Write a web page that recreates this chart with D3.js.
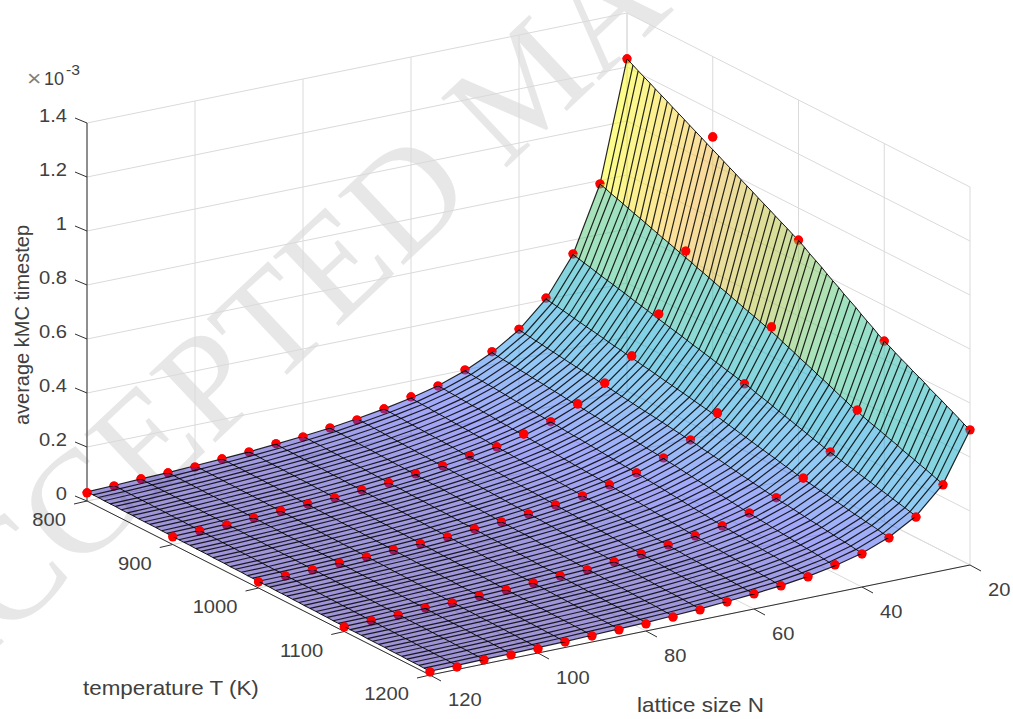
<!DOCTYPE html>
<html>
<head>
<meta charset="utf-8">
<script src="https://cdn.jsdelivr.net/npm/d3@7"></script>
<style>
body { margin: 0; background: #fff; }
text { font-family: "Liberation Sans", Arial, sans-serif; }
</style>
</head>
<body>
<svg></svg>
<script>

// axis ticks
var tempTicks = [800,900,1000,1100,1200];
var sizeTicks = [120,100,80,60,40,20];
var zTicks = [0,0.2,0.4,0.6,0.8,1,1.2,1.4];
var zTickLabels = ["0","0.2","0.4","0.6","0.8","1","1.2","1.4"];

// lattice sizes of the red points and of the surface columns
var latticeSizes = [20,25,30,35,40,45,50,55,60,65,70,75,80,85,90,95,100,105,110,115,120];

// red points, average timestep in units of 1e-3, one row per temperature
var points800 = [1.23,.787,.548,.405,.31,.247,.2,.161,.141,.117,.096,.087,.074,.069,.059,.054,.044,.043,.041,.035,.03];
var points900 = [1.102,.7,.487,.352,.272,.215,.169,.144,.117,.104,.087,.078,.065,.059,.05,.048,.043,.037,.031,.03,.028];
var points1000 = [.881,.58,.389,.302,.222,.176,.141,.117,.096,.083,.07,.061,.056,.046,.041,.039,.033,.031,.026,.024,.022];
var points1100 = [.668,.433,.298,.222,.169,.133,.106,.089,.076,.063,.054,.044,.043,.037,.031,.03,.024,.026,.02,.019,.017];
var points1200 = [.5,.317,.218,.161,.122,.102,.078,.065,.056,.046,.037,.031,.026,.024,.022,.02,.015,.013,.015,.009,.011];
var pointRows = [
  {temp:800, values:points800},
  {temp:900, values:points900},
  {temp:1000, values:points1000},
  {temp:1100, values:points1100},
  {temp:1200, values:points1200}
];

// surface mesh, one row per temperature from 800 to 1200
var surfaceTemps = [800,807,813,820,827,833,840,847,853,860,867,873,880,887,893,900,907,913,920,927,933,940,947,953,960,967,973,980,987,993,1000,1007,1013,1020,1027,1033,1040,1047,1053,1060,1067,1073,1080,1087,1093,1100,1107,1113,1120,1127,1133,1140,1147,1153,1160,1167,1173,1180,1187,1193,1200];
var surfaceValues = [
[1.230,.787,.546,.402,.308,.244,.197,.162,.137,.117,.101,.087,.077,.068,.060,.054,.049,.044,.041,.037,.034],
[1.218,.780,.541,.398,.305,.241,.195,.161,.135,.116,.100,.086,.076,.067,.060,.054,.049,.044,.040,.037,.034],
[1.207,.772,.536,.395,.302,.239,.193,.159,.134,.115,.099,.086,.075,.066,.059,.053,.048,.043,.040,.036,.034],
[1.195,.765,.531,.391,.299,.237,.191,.158,.133,.114,.098,.085,.075,.066,.058,.053,.048,.043,.039,.036,.033],
[1.183,.757,.525,.387,.296,.234,.189,.156,.131,.112,.097,.084,.074,.065,.058,.052,.047,.043,.039,.035,.033],
[1.172,.750,.520,.383,.293,.232,.188,.155,.130,.111,.096,.083,.073,.064,.057,.052,.047,.042,.039,.035,.033],
[1.160,.742,.515,.379,.290,.230,.186,.153,.129,.110,.095,.082,.073,.064,.057,.051,.046,.042,.038,.035,.032],
[1.148,.735,.510,.375,.287,.227,.184,.152,.127,.109,.094,.082,.072,.063,.056,.051,.046,.041,.038,.034,.032],
[1.137,.728,.505,.372,.284,.225,.182,.150,.126,.108,.093,.081,.071,.063,.056,.050,.045,.041,.038,.034,.032],
[1.125,.720,.500,.368,.281,.223,.180,.149,.125,.107,.092,.080,.070,.062,.055,.050,.045,.041,.037,.034,.031],
[1.113,.712,.494,.364,.278,.220,.178,.147,.124,.106,.091,.079,.070,.061,.055,.049,.045,.040,.037,.033,.031],
[1.102,.705,.489,.360,.276,.218,.176,.145,.122,.105,.090,.078,.069,.061,.054,.048,.044,.040,.036,.033,.031],
[1.090,.698,.484,.356,.273,.216,.174,.144,.121,.104,.089,.077,.068,.060,.053,.048,.044,.039,.036,.033,.031],
[1.078,.690,.479,.353,.270,.213,.172,.142,.120,.102,.088,.077,.067,.059,.053,.047,.043,.039,.036,.032,.030],
[1.067,.683,.474,.349,.267,.211,.171,.141,.118,.101,.087,.076,.067,.059,.052,.047,.043,.038,.035,.032,.030],
[1.055,.675,.468,.345,.264,.209,.169,.139,.117,.100,.087,.075,.066,.058,.052,.046,.042,.038,.035,.032,.030],
[1.043,.668,.463,.341,.261,.207,.167,.138,.116,.099,.086,.074,.065,.057,.051,.046,.042,.038,.034,.031,.029],
[1.032,.660,.458,.337,.258,.204,.165,.136,.115,.098,.085,.073,.065,.057,.051,.045,.041,.037,.034,.031,.029],
[1.020,.653,.453,.334,.255,.202,.163,.135,.113,.097,.084,.072,.064,.056,.050,.045,.041,.037,.034,.031,.029],
[1.008,.645,.448,.330,.252,.200,.161,.133,.112,.096,.083,.072,.063,.055,.049,.044,.040,.036,.033,.030,.028],
[.997,.638,.443,.326,.249,.197,.160,.132,.111,.095,.082,.071,.062,.055,.049,.044,.040,.036,.033,.030,.028],
[.985,.630,.437,.322,.246,.195,.158,.130,.109,.094,.081,.070,.062,.054,.048,.043,.039,.035,.033,.030,.028],
[.973,.623,.432,.318,.243,.193,.156,.128,.108,.092,.080,.069,.061,.054,.048,.043,.039,.035,.032,.029,.027],
[.962,.616,.427,.315,.241,.190,.154,.127,.107,.091,.079,.068,.060,.053,.047,.042,.038,.035,.032,.029,.027],
[.950,.608,.422,.311,.238,.188,.152,.125,.105,.090,.078,.067,.059,.052,.047,.042,.038,.034,.031,.029,.027],
[.938,.600,.416,.307,.235,.186,.150,.124,.104,.089,.077,.067,.059,.052,.046,.041,.038,.034,.031,.028,.026],
[.927,.593,.412,.303,.232,.184,.148,.122,.103,.088,.076,.066,.058,.051,.045,.041,.037,.033,.031,.028,.026],
[.915,.586,.406,.299,.229,.181,.146,.121,.102,.087,.075,.065,.057,.050,.045,.040,.037,.033,.030,.027,.026],
[.903,.578,.401,.295,.226,.179,.144,.119,.100,.086,.074,.064,.056,.050,.044,.040,.036,.033,.030,.027,.025],
[.892,.571,.396,.292,.223,.177,.143,.118,.099,.085,.073,.063,.056,.049,.044,.039,.036,.032,.029,.027,.025],
[.880,.563,.391,.288,.220,.174,.141,.116,.098,.084,.072,.062,.055,.048,.043,.039,.035,.032,.029,.026,.025],
[.866,.554,.385,.283,.217,.171,.139,.114,.096,.082,.071,.061,.054,.048,.042,.038,.035,.031,.029,.026,.024],
[.852,.545,.378,.279,.213,.169,.136,.112,.095,.081,.070,.060,.053,.047,.042,.037,.034,.031,.028,.026,.024],
[.838,.536,.372,.274,.210,.166,.134,.111,.093,.080,.069,.059,.052,.046,.041,.037,.034,.030,.028,.025,.023],
[.824,.527,.366,.269,.206,.163,.132,.109,.091,.078,.068,.059,.052,.045,.040,.036,.033,.030,.027,.025,.023],
[.810,.518,.360,.265,.203,.160,.130,.107,.090,.077,.066,.058,.051,.045,.040,.036,.032,.029,.027,.024,.023],
[.795,.509,.353,.260,.199,.157,.127,.105,.088,.076,.065,.056,.050,.044,.039,.035,.032,.029,.026,.024,.022],
[.781,.500,.347,.255,.195,.155,.125,.103,.087,.074,.064,.055,.049,.043,.038,.034,.031,.028,.026,.023,.022],
[.767,.491,.341,.251,.192,.152,.123,.101,.085,.073,.063,.054,.048,.042,.038,.034,.031,.028,.025,.023,.021],
[.753,.482,.334,.246,.188,.149,.120,.099,.084,.072,.062,.053,.047,.041,.037,.033,.030,.027,.025,.023,.021],
[.739,.473,.328,.242,.185,.146,.118,.098,.082,.070,.061,.052,.046,.041,.036,.033,.030,.027,.024,.022,.021],
[.725,.464,.322,.237,.181,.144,.116,.096,.080,.069,.059,.051,.045,.040,.036,.032,.029,.026,.024,.022,.020],
[.710,.454,.315,.232,.178,.141,.114,.094,.079,.067,.058,.050,.044,.039,.035,.031,.028,.026,.023,.021,.020],
[.696,.445,.309,.228,.174,.138,.111,.092,.077,.066,.057,.049,.044,.038,.034,.031,.028,.025,.023,.021,.019],
[.682,.436,.303,.223,.171,.135,.109,.090,.076,.065,.056,.048,.043,.038,.033,.030,.027,.025,.023,.020,.019],
[.668,.428,.297,.218,.167,.132,.107,.088,.074,.063,.055,.047,.042,.037,.033,.029,.027,.024,.022,.020,.019],
[.657,.420,.292,.215,.164,.130,.105,.087,.073,.062,.054,.047,.041,.036,.032,.029,.026,.024,.022,.020,.018],
[.646,.413,.287,.211,.162,.128,.103,.085,.072,.061,.053,.046,.040,.036,.032,.028,.026,.023,.021,.019,.018],
[.634,.406,.281,.207,.159,.126,.101,.084,.070,.060,.052,.045,.040,.035,.031,.028,.025,.023,.021,.019,.018],
[.623,.399,.277,.204,.156,.123,.100,.082,.069,.059,.051,.044,.039,.034,.031,.027,.025,.022,.021,.019,.017],
[.612,.392,.272,.200,.153,.121,.098,.081,.068,.058,.050,.043,.038,.034,.030,.027,.024,.022,.020,.018,.017],
[.601,.385,.267,.197,.150,.119,.096,.079,.067,.057,.049,.043,.038,.033,.029,.026,.024,.022,.020,.018,.017],
[.590,.378,.262,.193,.148,.117,.094,.078,.065,.056,.048,.042,.037,.032,.029,.026,.024,.021,.019,.018,.017],
[.578,.370,.257,.189,.145,.114,.092,.076,.064,.055,.047,.041,.036,.032,.028,.025,.023,.021,.019,.017,.016],
[.567,.363,.252,.185,.142,.112,.091,.075,.063,.054,.046,.040,.035,.031,.028,.025,.023,.020,.019,.017,.016],
[.556,.356,.247,.182,.139,.110,.089,.073,.062,.053,.046,.039,.035,.031,.027,.024,.022,.020,.018,.017,.016],
[.545,.349,.242,.178,.136,.108,.087,.072,.060,.052,.045,.039,.034,.030,.027,.024,.022,.020,.018,.016,.015],
[.534,.342,.237,.175,.134,.106,.085,.070,.059,.051,.044,.038,.033,.029,.026,.023,.021,.019,.018,.016,.015],
[.522,.334,.232,.171,.131,.103,.084,.069,.058,.050,.043,.037,.033,.029,.026,.023,.021,.019,.017,.016,.015],
[.511,.327,.227,.167,.128,.101,.082,.067,.057,.049,.042,.036,.032,.028,.025,.022,.020,.018,.017,.015,.014],
[.500,.320,.222,.164,.125,.099,.080,.066,.056,.048,.041,.036,.031,.028,.025,.022,.020,.018,.017,.015,.014]
];

var width = 1013;
var height = 719;

var svg = d3.select("svg")
            .attr("width",width)
            .attr("height",height);

// the box is an oblique projection, each data axis moves x and y on screen
var originX = 87;
var originY = 501;
var tempX = d3.scaleLinear().domain([800,1200]).range([0,343]);
var tempY = d3.scaleLinear().domain([800,1200]).range([0,174]);
var sizeX = d3.scaleLinear().domain([120,20]).range([0,540]);
var sizeY = d3.scaleLinear().domain([120,20]).range([0,-110]);
var zY = d3.scaleLinear().domain([0,1.4]).range([0,-378]);

var project = function(t,n,z)
{
  return [originX + tempX(t) + sizeX(n), originY + tempY(t) + sizeY(n) + zY(z)];
}

var line = d3.line();

// parula colormap
var parula = d3.scaleLinear()
  .domain([0,.11,.24,.365,.49,.62,.75,.87,1])
  .range(["#3e26a8","#4852f4","#2796eb","#07a2cf","#12b2b2","#42c680","#b3bf33","#f6ba3b","#f9fb15"]);
var colorZ = d3.scaleLinear().domain([.014,1.23]).range([0,1]).clamp(true);

// watermark sits behind the axes
svg.append("text")
  .attr("transform","translate(-72,713) rotate(-43.3)")
  .attr("font-size",146)
  .attr("fill","#e7e7e7")
  .style("font-family","'Liberation Serif', serif")
  .text("ACCEPTED MA");

// grid on the back walls and the floor
var gridLines = [];
zTicks.forEach(function(z)
{
  gridLines.push([project(800,120,z),project(800,20,z)]);
  gridLines.push([project(800,20,z),project(1200,20,z)]);
});
sizeTicks.forEach(function(n)
{
  gridLines.push([project(800,n,0),project(800,n,1.4)]);
  gridLines.push([project(800,n,0),project(1200,n,0)]);
});
tempTicks.forEach(function(t)
{
  gridLines.push([project(t,20,0),project(t,20,1.4)]);
  gridLines.push([project(t,20,0),project(t,120,0)]);
});

svg.append("g").selectAll("path")
  .data(gridLines)
  .enter()
  .append("path")
  .attr("d",function(d) { return line(d); })
  .attr("fill","none")
  .attr("stroke","#dadada")
  .attr("stroke-width",1);

// axis lines and ticks
var axisLines = [
  [project(800,120,0),project(800,120,1.4)],
  [project(800,120,0),project(1200,120,0)],
  [project(1200,120,0),project(1200,20,0)]
];
zTicks.forEach(function(z)
{
  var p = project(800,120,z);
  axisLines.push([p,[p[0]-12,p[1]-5]]);
});
tempTicks.forEach(function(t)
{
  var p = project(t,120,0);
  axisLines.push([p,[p[0]-13,p[1]+3]]);
});
sizeTicks.forEach(function(n)
{
  var p = project(1200,n,0);
  axisLines.push([p,[p[0]+11,p[1]+6]]);
});

svg.append("g").selectAll("path")
  .data(axisLines)
  .enter()
  .append("path")
  .attr("d",function(d) { return line(d); })
  .attr("fill","none")
  .attr("stroke","#303030")
  .attr("stroke-width",1);

// red points, each one keeps its surface height to see if it pokes out
var points = [];
pointRows.forEach(function(row)
{
  var rowIndex = surfaceTemps.indexOf(row.temp);
  row.values.forEach(function(v,j)
  {
    var p = project(row.temp,latticeSizes[j],v);
    points.push({x:p[0], y:p[1], above:v-surfaceValues[rowIndex][j]});
  });
});

// whole points first, the see-through surface then tints them
svg.append("g").selectAll("circle")
  .data(points)
  .enter()
  .append("circle")
  .attr("cx",function(d) { return d.x; })
  .attr("cy",function(d) { return d.y; })
  .attr("r",4.6)
  .attr("fill","#ff0000");

// surface faces, colour comes from the first corner like MATLAB does
var faces = [];
d3.range(surfaceTemps.length-1).forEach(function(i)
{
  d3.range(latticeSizes.length-1).forEach(function(j)
  {
    faces.push({
      pts: [
        project(surfaceTemps[i],latticeSizes[j],surfaceValues[i][j]),
        project(surfaceTemps[i],latticeSizes[j+1],surfaceValues[i][j+1]),
        project(surfaceTemps[i+1],latticeSizes[j+1],surfaceValues[i+1][j+1]),
        project(surfaceTemps[i+1],latticeSizes[j],surfaceValues[i+1][j])
      ],
      z: surfaceValues[i][j]
    });
  });
});

svg.append("g").selectAll("path")
  .data(faces)
  .enter()
  .append("path")
  .attr("d",function(d) { return line(d.pts)+"Z"; })
  .attr("fill",function(d) { return parula(colorZ(d.z)); })
  .attr("fill-opacity",.5);

// mesh
var hatchLines = surfaceTemps.map(function(t,i)
{
  return latticeSizes.map(function(n,j) { return project(t,n,surfaceValues[i][j]); });
});
var sizeLines = latticeSizes.map(function(n,j)
{
  return surfaceTemps.map(function(t,i) { return project(t,n,surfaceValues[i][j]); });
});

svg.append("g").selectAll("path")
  .data(hatchLines)
  .enter()
  .append("path")
  .attr("d",function(d) { return line(d); })
  .attr("fill","none")
  .attr("stroke","#000")
  .attr("stroke-opacity",.85)
  .attr("stroke-width",1.2);

svg.append("g").selectAll("path")
  .data(sizeLines)
  .enter()
  .append("path")
  .attr("d",function(d) { return line(d); })
  .attr("fill","none")
  .attr("stroke","#000")
  .attr("stroke-opacity",.9)
  .attr("stroke-width",1);

// the part of each point above the surface goes back on top
var topHalf = d3.arc()
  .innerRadius(0)
  .outerRadius(4.6)
  .startAngle(-Math.PI/2)
  .endAngle(Math.PI/2);
var wholeDot = d3.arc()
  .innerRadius(0)
  .outerRadius(4.6)
  .startAngle(0)
  .endAngle(2*Math.PI);

svg.append("g").selectAll("path")
  .data(points)
  .enter()
  .append("path")
  .attr("transform",function(d) { return "translate("+d.x+","+d.y+")"; })
  .attr("d",function(d) { return d.above>=.004 ? wholeDot() : topHalf(); })
  .attr("fill","#ff0000");

// all labels are a little wider than tall in the picture
var addText = function(str,x,y,size,anchor)
{
  return svg.append("text")
    .attr("transform","translate("+x+","+y+") scale(1.12,1)")
    .attr("font-size",size)
    .attr("text-anchor",anchor)
    .attr("fill","#404040")
    .text(str);
}

zTicks.forEach(function(z,i)
{
  var p = project(800,120,z);
  addText(zTickLabels[i],p[0]-20,p[1]-1,18,"end");
});
tempTicks.forEach(function(t)
{
  var p = project(t,120,0);
  addText(t,p[0]-21,p[1]+25,18,"end");
});
sizeTicks.forEach(function(n)
{
  var p = project(1200,n,0);
  addText(n,p[0]+18,p[1]+31,18,"start");
});

addText("temperature T (K)",83,695,20,"start");
addText("lattice size N",637,712,20,"start");

svg.append("text")
  .attr("transform","translate(29,325) rotate(-90)")
  .attr("font-size",20)
  .attr("text-anchor","middle")
  .attr("fill","#404040")
  .text("average kMC timestep");

addText("\u00d7",27,86,22,"start").attr("fill","#808080");
svg.append("text")
  .attr("x",44)
  .attr("y",85)
  .attr("font-size",18)
  .attr("fill","#404040")
  .text("10");
addText("-3",66,75,14,"start");

</script>
</body>
</html>
